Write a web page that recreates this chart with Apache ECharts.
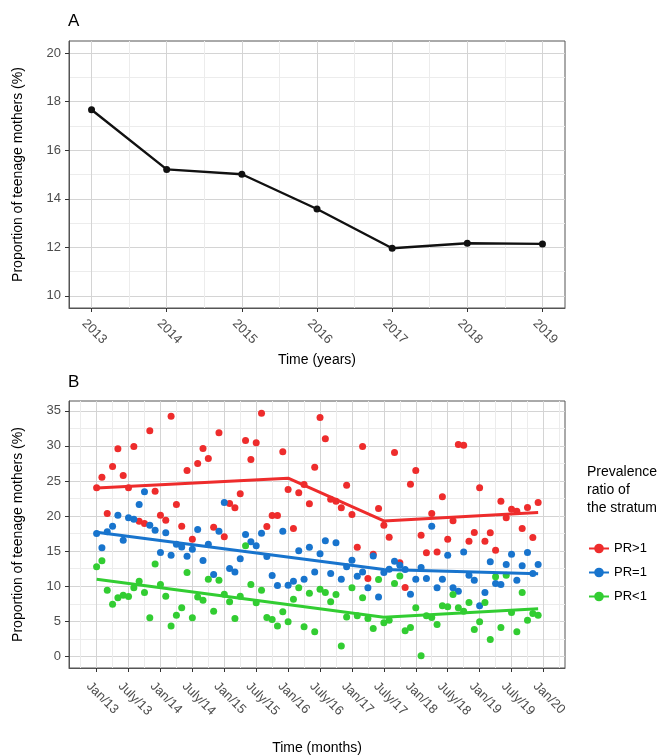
<!DOCTYPE html>
<html>
<head>
<meta charset="utf-8">
<script src="https://cdn.jsdelivr.net/npm/echarts@6/dist/echarts.min.js"></script>
<style>
html,body{margin:0;padding:0;background:#fff;}
#chart{width:663px;height:756px;}
</style>
</head>
<body>
<div id="chart"></div>
<script>
// ---------- DATA ----------
const years = [2013, 2014, 2015, 2016, 2017, 2018, 2019];
const yearlyProportion = [17.67, 15.21, 15.01, 13.58, 11.96, 12.17, 12.14];

const yearTicks = [2013, 2014, 2015, 2016, 2017, 2018, 2019];
const yearMinorTicks = [2013.5, 2014.5, 2015.5, 2016.5, 2017.5, 2018.5];
const topYTicks = [10, 12, 14, 16, 18, 20];
const topYMinorTicks = [11, 13, 15, 17, 19];

const monthTickLabels = ['Jan/13','July/13','Jan/14','July/14','Jan/15','July/15','Jan/16','July/16',
  'Jan/17','July/17','Jan/18','July/18','Jan/19','July/19','Jan/20'];
const monthTicks = [0,6,12,18,24,30,36,42,48,54,60,66,72,78,84];
const monthMinorTicks = [-3,3,9,15,21,27,33,39,45,51,57,63,69,75,81,87];
const bottomYTicks = [0, 5, 10, 15, 20, 25, 30, 35];
const bottomYMinorTicks = [2.5, 7.5, 12.5, 17.5, 22.5, 27.5, 32.5];

// month index 0 = Jan/13 ... 83 = Dec/19
const prGreater = [24.02,25.54,20.36,27.06,29.58,25.78,24.02,29.91,19.27,18.94,32.14,23.55,
  20.13,19.41,34.23,21.65,18.56,26.49,16.71,27.49,29.62,28.20,18.42,31.85,
  17.04,21.79,21.17,23.17,30.76,28.06,30.43,34.66,18.51,20.08,20.08,29.15,
  23.78,18.23,23.31,24.49,21.74,26.96,34.04,31.00,22.41,22.12,21.17,24.40,
  20.22,15.57,29.91,11.11,14.57,21.08,18.70,16.99,29.05,13.34,9.82,24.54,
  26.49,17.28,14.76,20.36,14.90,22.74,16.71,19.32,30.19,30.10,16.42,17.66,
  24.02,16.42,17.61,15.14,22.12,19.75,20.98,20.70,18.23,21.22,16.94,21.93];
const prEqual = [17.51,15.47,17.75,18.56,20.13,16.57,19.75,19.56,21.65,23.45,18.70,17.99,
  14.81,17.61,14.43,16.00,15.61,14.29,15.28,18.08,13.67,15.99,11.67,17.85,
  21.93,12.53,12.05,13.91,17.37,16.33,15.76,17.56,14.24,11.53,10.11,17.85,
  10.15,10.72,15.05,11.01,15.57,12.05,14.62,16.47,11.82,16.19,11.01,12.77,
  13.72,11.44,12.05,9.78,14.33,8.49,11.96,12.43,13.57,13.00,12.40,8.87,
  11.01,12.67,11.11,18.56,9.78,11.01,14.43,9.78,9.30,14.90,11.58,10.87,
  7.21,9.11,13.48,10.39,10.25,13.10,14.57,10.87,12.91,14.81,11.82,13.10];
const prLess = [12.77,13.62,9.44,7.45,8.35,8.73,8.54,9.78,10.72,9.11,5.50,13.19,
  10.25,8.59,4.36,5.88,6.93,11.96,5.50,8.49,8.02,11.01,6.45,10.87,
  8.87,7.78,5.41,8.59,15.76,10.25,7.64,9.44,5.55,5.27,4.36,6.36,
  4.93,8.16,9.78,4.22,9.02,3.51,9.59,9.11,7.78,8.82,1.51,5.64,
  9.78,5.79,8.35,5.40,3.98,10.96,4.79,5.17,10.39,11.48,3.65,4.12,
  6.93,0.09,5.79,5.55,4.55,7.21,7.07,8.82,6.93,6.45,7.69,3.84,
  4.93,7.69,2.41,11.34,4.12,11.58,6.26,3.51,9.11,5.17,6.12,5.88];

// segmented trend (breakpoint month, fitted value)
const trendGreater = [[0, 24.0], [36, 25.4], [54, 19.3], [83, 20.5]];
const trendEqual = [[0, 17.7], [54, 12.4], [83, 11.8]];
const trendLess = [[0, 11.0], [54, 5.6], [83, 6.8]];

const strata = ['PR>1', 'PR=1', 'PR<1'];
const strataColors = ['#EE2C2C', '#1874CD', '#32CD32'];

// ---------- CHART ----------
const FONT = "'Liberation Sans', Arial, sans-serif";
const MAJOR = '#d4d4d4', MINOR = '#ececec', BORDER = '#555555', TICK = '#333333', LABEL = '#4d4d4d';

function majorAxis(gridIndex, min, max, ticks, extra) {
  return Object.assign({
    type: 'value', gridIndex, min, max,
    axisLine: { show: true, onZero: false, lineStyle: { color: BORDER, width: 1 } },
    axisTick: { show: true, length: 4, customValues: ticks, lineStyle: { color: TICK } },
    axisLabel: { show: true, customValues: ticks, color: LABEL, fontSize: 13, fontFamily: FONT,
      formatter: v => String(v) },
    splitLine: { show: true, lineStyle: { color: MAJOR, width: 1 } },
    nameTextStyle: { color: '#000', fontSize: 14, fontFamily: FONT }
  }, extra || {});
}
function minorAxis(gridIndex, min, max, ticks, pos) {
  return {
    type: 'value', gridIndex, min, max, position: pos,
    axisLine: { show: false }, axisLabel: { show: false },
    axisTick: { show: false, customValues: ticks },
    splitLine: { show: true, lineStyle: { color: MINOR, width: 1 } }
  };
}

const chart = echarts.init(document.getElementById('chart'), null, { renderer: 'canvas' });

const option = {
  backgroundColor: '#fff',
  animation: false,
  textStyle: { fontFamily: FONT },
  title: [
    { text: 'A', left: 68, top: 13, padding: 0, textStyle: { fontSize: 17, fontWeight: 'normal', color: '#000', fontFamily: FONT } },
    { text: 'B', left: 68, top: 374, padding: 0, textStyle: { fontSize: 17, fontWeight: 'normal', color: '#000', fontFamily: FONT } },
    { text: 'Prevalence\nratio of\nthe stratum', left: 587, top: 463, padding: 0,
      textStyle: { fontSize: 14, fontWeight: 'normal', color: '#000', lineHeight: 18, fontFamily: FONT } }
  ],
  legend: {
    data: strata, orient: 'vertical', left: 588, top: 542, itemWidth: 20, itemHeight: 12, itemGap: 11,
    textStyle: { fontSize: 13, color: '#000', fontFamily: FONT }, padding: 0
  },
  grid: [
    { left: 69, top: 41, width: 496, height: 267, show: true, borderColor: BORDER, borderWidth: 1, backgroundColor: '#fff', containLabel: false },
    { left: 69, top: 401, width: 496, height: 267, show: true, borderColor: BORDER, borderWidth: 1, backgroundColor: '#fff', containLabel: false }
  ],
  xAxis: [
    majorAxis(0, 2012.7, 2019.3, yearTicks, {
      name: 'Time (years)', nameLocation: 'middle', nameGap: 45,
      axisLabel: { show: true, customValues: yearTicks, color: LABEL, fontSize: 13, fontFamily: FONT,
        rotate: -45, margin: 6, verticalAlign: 'top', padding: [4, 0, 0, 0], formatter: v => String(v) }
    }),
    minorAxis(0, 2012.7, 2019.3, yearMinorTicks, 'top'),
    majorAxis(1, -5.19, 88.05, monthTicks, {
      name: 'Time (months)', nameLocation: 'middle', nameGap: 73,
      axisLabel: { show: true, customValues: monthTicks, color: LABEL, fontSize: 13, fontFamily: FONT,
        rotate: -45, margin: 8, verticalAlign: 'top', padding: [5, 0, 0, 0], formatter: v => monthTickLabels[Math.round(v / 6)] }
    }),
    minorAxis(1, -5.19, 88.05, monthMinorTicks, 'top')
  ],
  yAxis: [
    majorAxis(0, 9.5, 20.5, topYTicks, { name: 'Proportion of teenage mothers (%)', nameLocation: 'middle', nameGap: 44 }),
    minorAxis(0, 9.5, 20.5, topYMinorTicks, 'right'),
    majorAxis(1, -1.64, 36.39, bottomYTicks, { name: 'Proportion of teenage mothers (%)', nameLocation: 'middle', nameGap: 44 }),
    minorAxis(1, -1.64, 36.39, bottomYMinorTicks, 'right')
  ],
  series: []
};

option.series.push({
  type: 'line', xAxisIndex: 0, yAxisIndex: 0,
  data: years.map((y, i) => [y, yearlyProportion[i]]),
  symbol: 'circle', symbolSize: 7, showSymbol: true,
  lineStyle: { color: '#111', width: 2.4 }, itemStyle: { color: '#111' },
  z: 5, silent: true
});

const monthly = [prGreater, prEqual, prLess];
const trends = [trendGreater, trendEqual, trendLess];
strata.forEach((name, k) => {
  option.series.push({
    name, type: 'line', xAxisIndex: 2, yAxisIndex: 2,
    data: trends[k], symbol: 'circle', symbolSize: 7, showSymbol: false,
    lineStyle: { color: strataColors[k], width: 3 }, itemStyle: { color: strataColors[k] },
    z: 6, silent: true
  });
});
strata.forEach((name, k) => {
  option.series.push({
    name, type: 'scatter', xAxisIndex: 2, yAxisIndex: 2,
    data: monthly[k].map((v, i) => [i, v]),
    symbol: 'circle', symbolSize: 7,
    itemStyle: { color: strataColors[k], opacity: 1 },
    z: 4, silent: true
  });
});

chart.setOption(option);
</script>
</body>
</html>
